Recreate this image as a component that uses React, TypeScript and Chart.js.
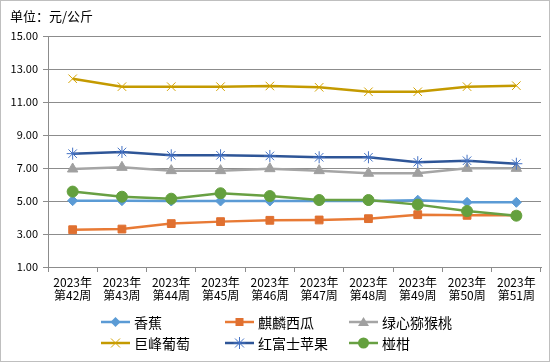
import React, { useEffect, useRef } from "react";
import { Chart, registerables } from "chart.js";

Chart.register(...registerables);

const categories: string[][] = [
  ["2023年", "第42周"], ["2023年", "第43周"], ["2023年", "第44周"], ["2023年", "第45周"], ["2023年", "第46周"],
  ["2023年", "第47周"], ["2023年", "第48周"], ["2023年", "第49周"], ["2023年", "第50周"], ["2023年", "第51周"],
];

const banana = [5.02, 5.02, 5.0, 5.0, 5.0, 5.0, 5.0, 5.05, 4.92, 4.92];
const watermelon = [3.26, 3.3, 3.63, 3.75, 3.83, 3.85, 3.93, 4.17, 4.13, 4.13];
const kiwi = [6.94, 7.04, 6.84, 6.84, 6.96, 6.84, 6.68, 6.68, 6.98, 6.98];
const grape = [12.41, 11.93, 11.93, 11.93, 11.97, 11.89, 11.62, 11.62, 11.93, 11.99];
const redFuji = [7.87, 7.97, 7.77, 7.77, 7.73, 7.65, 7.65, 7.35, 7.44, 7.26];
const mandarin = [5.57, 5.26, 5.14, 5.47, 5.3, 5.06, 5.06, 4.78, 4.39, 4.11];

const seriesNames = ["香蕉", "麒麟西瓜", "绿心猕猴桃", "巨峰葡萄", "红富士苹果", "椪柑"];
const yTicks = { min: 1, max: 15, step: 2 };
const unitLabel = "单位：元/公斤";

const FONT = "'Noto Sans CJK SC', 'Noto Sans', sans-serif";

const styles = [
  { line: "#5B9BD5", point: "#5B9BD5", shape: "rectRot", r: 5, bw: 1 },
  { line: "#E87A35", point: "#E07030", shape: "rect", r: 5.5, bw: 1 },
  { line: "#A5A5A5", point: "#A0A0A0", shape: "triangle", r: 6, bw: 1 },
  { line: "#C49A00", point: "#D4A300", shape: "crossRot", r: 6, bw: 1 },
  { line: "#2E5597", point: "#4472C4", shape: "star", r: 6, bw: 1 },
  { line: "#68A043", point: "#64A03E", shape: "circle", r: 5.5, bw: 1 },
];

function LegendSymbol({ i }: { i: number }) {
  const s = styles[i];
  const cx = 14.5, cy = 7;
  let marker: React.ReactNode = null;
  if (s.shape === "rectRot") marker = <polygon points={`${cx},${cy - 5} ${cx + 5},${cy} ${cx},${cy + 5} ${cx - 5},${cy}`} fill={s.point} />;
  else if (s.shape === "rect") marker = <rect x={cx - 4} y={cy - 4} width={8} height={8} fill={s.point} />;
  else if (s.shape === "triangle") marker = <polygon points={`${cx},${cy - 5} ${cx + 5.5},${cy + 4} ${cx - 5.5},${cy + 4}`} fill={s.point} />;
  else if (s.shape === "crossRot") marker = (
    <g stroke={s.point} strokeWidth={1}>
      <line x1={cx - 4.5} y1={cy - 4.5} x2={cx + 4.5} y2={cy + 4.5} />
      <line x1={cx - 4.5} y1={cy + 4.5} x2={cx + 4.5} y2={cy - 4.5} />
    </g>
  );
  else if (s.shape === "star") marker = (
    <g stroke={s.point} strokeWidth={1}>
      <line x1={cx - 4.5} y1={cy - 4.5} x2={cx + 4.5} y2={cy + 4.5} />
      <line x1={cx - 4.5} y1={cy + 4.5} x2={cx + 4.5} y2={cy - 4.5} />
      <line x1={cx} y1={cy - 6} x2={cx} y2={cy + 6} />
      <line x1={cx - 6} y1={cy} x2={cx + 6} y2={cy} />
    </g>
  );
  else marker = <circle cx={cx} cy={cy} r={5.5} fill={s.point} />;
  return (
    <svg width={30} height={14} style={{ display: "block" }}>
      <line x1={0} y1={cy} x2={29} y2={cy} stroke={s.line} strokeWidth={2.5} />
      {marker}
    </svg>
  );
}

export default function App() {
  const ref = useRef<HTMLCanvasElement | null>(null);

  useEffect(() => {
    if (!ref.current) return;
    const data = [banana, watermelon, kiwi, grape, redFuji, mandarin];
    const chart = new Chart(ref.current, {
      type: "line",
      data: {
        labels: categories,
        datasets: data.map((d, i) => ({
          label: seriesNames[i],
          data: d,
          borderColor: styles[i].line,
          backgroundColor: styles[i].point,
          borderWidth: 2.5,
          pointStyle: styles[i].shape as any,
          pointRadius: styles[i].r,
          pointBackgroundColor: styles[i].point,
          pointBorderColor: styles[i].point,
          pointBorderWidth: styles[i].bw,
          tension: 0,
          order: 10 - i,
        })),
      },
      options: {
        animation: false,
        responsive: false,
        layout: { padding: { left: 10, right: 9, top: 36, bottom: 55 } },
        plugins: { legend: { display: false }, tooltip: { enabled: false }, title: { display: false } },
        scales: {
          x: {
            offset: true,
            grid: { offset: true, drawOnChartArea: false, drawTicks: true, tickLength: 5, color: "#8C8C8C" },
            border: { color: "#8C8C8C", width: 1 },
            ticks: {
              color: "#000",
              font: { family: FONT, size: 12, lineHeight: 1.1 },
              padding: 4,
              maxRotation: 0,
              autoSkip: false,
            },
            afterFit: (s: any) => { s.height = 40; },
          },
          y: {
            min: yTicks.min,
            max: yTicks.max,
            ticks: {
              stepSize: yTicks.step,
              color: "#000",
              font: { family: FONT, size: 11 },
              padding: 5,
              callback: (v: any) => Number(v).toFixed(2),
            },
            grid: { color: "#8C8C8C", tickLength: 5, drawTicks: true },
            border: { color: "#8C8C8C", width: 1 },
            afterFit: (s: any) => { s.width = 38; },
          },
        },
      },
    });
    return () => chart.destroy();
  }, []);

  const cols = [101, 225, 349];
  const rows = [322, 343];

  return (
    <div style={{ position: "absolute", left: 0, top: 0, width: 550, height: 362, background: "#fff", fontFamily: FONT }}>
      <canvas ref={ref} width={550} height={362} style={{ position: "absolute", left: 0, top: 0, width: 550, height: 362 }} />
      <div style={{ position: "absolute", left: 0, top: 0, width: 548, height: 360, border: "1px solid #BFBFBF", pointerEvents: "none" }} />
      <div style={{ position: "absolute", left: 10, top: 7, fontSize: 13, lineHeight: "18px", color: "#000", whiteSpace: "nowrap" }}>{unitLabel}</div>
      {seriesNames.map((name, i) => {
        const c = cols[i % 3];
        const r = rows[Math.floor(i / 3)];
        return (
          <div key={name} style={{ position: "absolute", left: c, top: r - 10, height: 20, display: "flex", alignItems: "center", whiteSpace: "nowrap" }}>
            <LegendSymbol i={i} />
            <span style={{ marginLeft: 3, fontSize: 14, lineHeight: "20px", color: "#000" }}>{name}</span>
          </div>
        );
      })}
    </div>
  );
}
